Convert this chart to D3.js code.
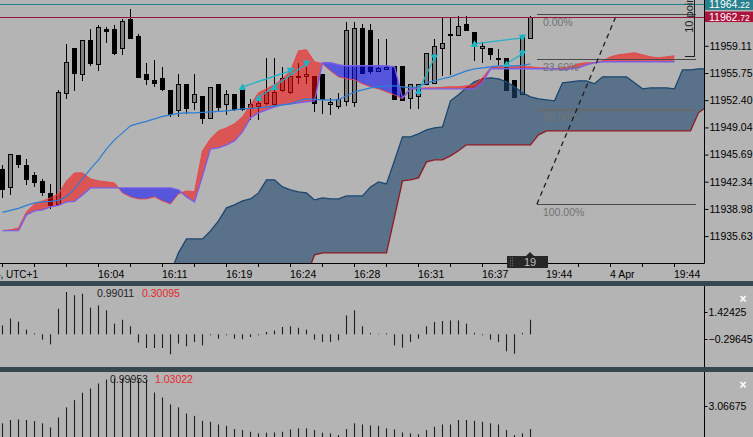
<!DOCTYPE html>
<html><head><meta charset="utf-8">
<script src="https://cdn.jsdelivr.net/npm/d3@7"></script>
<style>
html,body{margin:0;padding:0;background:#b4b4b4;overflow:hidden}
svg{display:block}
text{font-family:"Liberation Sans",Arial,sans-serif}
</style>
</head><body>
<svg id="c" width="753" height="437"></svg>
<script>
// ---------- DATA ----------
const open=[11943.92,11941.70,11945.65,11944.42,11943.18,11942.44,11940.96,11939.60,11953.31,11958.86,
11955.65,11959.85,11956.89,11961.21,11961.21,11958.86,11962.44,11960.35,11955.65,11954.91,
11955.16,11953.68,11951.21,11954.42,11952.20,11952.94,11950.22,11954.42,11951.95,11953.19,
11953.68,11951.46,11951.70,11952.07,11951.95,11953.68,11953.43,11955.41,11955.41,11955.41,
11955.65,11951.95,11951.70,11952.32,11952.20,11961.33,11961.09,11956.02,11956.27,11956.64,
11956.64,11952.69,11952.94,11954.42,11954.54,11958.86,11960.47,11960.47,11961.83,11960.84,
11958.86,11958.86,11957.63,11957.63,11954.91,11953.19,11960.10];
const high=[11944.42,11945.78,11945.65,11945.16,11943.55,11942.69,11942.07,11953.68,11959.36,11958.86,
11959.85,11961.21,11961.70,11961.46,11961.70,11962.44,11963.68,11960.59,11957.01,11957.38,
11956.52,11953.68,11955.65,11954.42,11955.65,11952.94,11954.05,11954.42,11953.68,11953.19,
11953.68,11952.57,11952.69,11957.63,11957.63,11956.52,11956.39,11957.01,11957.01,11955.41,
11955.65,11952.69,11953.31,11962.07,11962.07,11961.83,11961.83,11959.98,11959.98,11956.64,
11956.64,11954.42,11954.42,11958.25,11959.98,11962.69,11962.57,11962.81,11962.81,11960.84,
11959.60,11958.86,11958.74,11957.63,11954.91,11960.22,11962.81];
const low=[11940.47,11940.84,11944.17,11942.07,11941.82,11940.72,11939.11,11939.60,11952.69,11953.68,
11954.91,11956.77,11956.15,11959.60,11958.12,11958.12,11960.10,11955.28,11954.42,11954.17,
11953.68,11950.47,11950.47,11950.84,11951.33,11949.60,11950.22,11951.09,11950.72,11951.21,
11951.21,11950.10,11950.10,11951.95,11951.70,11953.56,11953.31,11954.54,11954.54,11951.09,
11950.84,11950.72,11951.46,11951.83,11951.70,11955.78,11955.78,11956.02,11956.27,11952.57,
11952.44,11951.46,11951.46,11954.42,11954.54,11955.53,11955.65,11960.47,11961.09,11957.38,
11957.14,11957.51,11956.89,11953.68,11952.81,11953.19,11960.10];
const close=[11941.46,11945.78,11944.54,11942.69,11942.32,11941.09,11939.48,11953.43,11957.14,11955.78,
11959.85,11957.01,11961.46,11961.02,11958.25,11962.20,11960.10,11955.28,11955.04,11954.54,
11953.80,11950.72,11954.42,11951.46,11953.19,11950.22,11954.05,11951.58,11953.19,11951.33,
11951.33,11951.95,11952.07,11953.43,11953.43,11955.16,11955.41,11955.28,11955.65,11952.07,
11952.57,11952.20,11952.57,11961.09,11961.33,11955.78,11956.02,11956.39,11956.52,11952.57,
11952.44,11954.42,11954.42,11958.25,11959.11,11959.48,11960.59,11961.58,11961.09,11959.36,
11959.11,11958.12,11957.57,11953.68,11952.81,11960.22,11962.72];

const kijun=[11938.56,11938.80,11939.05,11939.42,11939.73,11939.85,11939.91,11940.04,11940.53,11941.46,
11942.69,11943.92,11945.04,11946.39,11947.50,11948.37,11949.23,11949.54,11949.79,11950.10,
11950.41,11950.59,11950.78,11950.84,11950.84,11950.90,11950.96,11951.02,11951.09,11951.21,
11951.33,11951.39,11951.46,11951.58,11951.70,11951.83,11951.95,11952.32,11952.57,11952.51,
11952.44,11952.44,11952.44,11952.94,11953.43,11953.68,11953.92,11954.05,11954.17,11954.17,
11954.05,11953.92,11954.05,11954.54,11954.79,11955.04,11955.28,11955.65,11956.02,11956.27,
11956.39,11956.52,11956.64,11956.64,11956.64,11956.70,11956.89];

const spanA=[11936.31,11936.40,11936.64,11938.62,11939.60,11939.97,11940.34,11940.84,11942.44,11943.43,
11943.43,11942.69,11942.44,11942.32,11942.19,11940.96,11940.47,11940.22,11940.22,11940.47,
11939.97,11939.60,11940.84,11941.21,11941.09,11946.15,11947.63,11948.62,11948.99,11949.48,
11950.35,11951.83,11953.31,11953.80,11954.30,11955.04,11956.02,11958.49,11958.62,11957.14,
11956.89,11956.02,11955.28,11955.04,11954.91,11954.42,11954.05,11953.80,11953.43,11953.06,
11952.57,11953.80,11953.86,11953.92,11953.92,11953.99,11954.05,11954.05,11954.17,11954.30,
11955.16,11956.39,11956.52,11956.52,11956.52,11956.52,11956.52,11956.39,11956.39,11956.27,
11956.39,11956.52,11956.89,11957.01,11957.01,11957.26,11957.75,11958.00,11958.12,11958.25,
11958.00,11957.75,11957.63,11957.75,11957.88];
const spanB=[11936.31,11936.31,11936.31,11938.25,11938.74,11938.86,11939.23,11939.42,11939.85,11939.91,
11940.72,11941.58,11941.58,11941.58,11941.58,11941.58,11941.58,11941.58,11941.58,11941.58,
11941.58,11941.58,11941.33,11940.47,11939.85,11943.06,11946.39,11946.52,11946.89,11947.38,
11948.49,11950.22,11950.84,11951.21,11951.58,11951.83,11951.95,11952.07,11952.20,11952.32,
11957.01,11957.01,11956.77,11956.64,11956.64,11956.64,11956.64,11956.64,11956.64,11956.52,
11952.69,11953.80,11953.80,11953.80,11953.80,11953.80,11953.80,11953.80,11953.80,11953.80,
11954.54,11956.27,11956.27,11956.27,11956.27,11956.27,11956.27,11956.27,11956.27,11956.27,
11956.15,11956.27,11956.39,11956.77,11957.01,11957.14,11957.14,11957.14,11957.14,11957.14,
11957.14,11957.14,11957.14,11957.14,11957.14];

const farStart=21;
const farUpper=[11931.09,11933.56,11935.28,11935.28,11935.28,11936.27,11937.51,11939.11,11939.48,11939.97,
11940.22,11940.96,11942.57,11942.57,11941.70,11941.33,11941.09,11940.96,11940.10,11940.34,
11940.22,11940.22,11940.59,11940.59,11940.59,11941.70,11942.32,11942.07,11944.97,11947.87,
11947.87,11948.25,11948.74,11948.99,11949.11,11952.32,11953.06,11953.92,11954.67,11955.04,
11955.16,11955.04,11954.67,11954.05,11953.31,11952.81,11952.57,11952.44,11952.32,11954.54,
11954.67,11954.79,11954.79,11954.42,11955.28,11955.28,11955.28,11955.28,11954.54,11953.80,
11953.92,11953.92,11953.92,11953.80,11956.15,11956.15,11956.27,11956.27];
const farLower=[11927.63,11927.63,11927.63,11927.63,11927.63,11927.63,11927.63,11927.63,11927.63,11927.63,
11927.63,11927.63,11927.63,11927.63,11927.63,11927.63,11927.63,11930.72,11933.31,11933.56,
11933.56,11933.56,11933.56,11933.56,11933.56,11933.56,11933.56,11933.56,11938.00,11942.44,
11942.57,11942.81,11944.79,11945.04,11945.04,11945.53,11946.15,11946.89,11946.89,11946.89,
11946.89,11946.89,11946.89,11946.89,11946.89,11946.89,11948.12,11948.62,11948.62,11948.62,
11948.62,11948.62,11948.62,11948.62,11948.62,11948.62,11948.62,11948.62,11948.62,11948.62,
11948.62,11948.62,11948.62,11948.62,11948.62,11948.62,11950.84,11951.58];

const osc1=[0.57,1.00,0.81,0.30,0,-0.34,-0.64,1.64,2.70,2.49,
2.59,1.70,1.85,1.53,0.68,0.93,0.51,-0.53,-0.87,-0.87,
-0.87,-1.27,-0.59,-0.76,-0.49,-0.70,-0.06,-0.28,-0.06,-0.28,
-0.32,-0.17,-0.06,0.15,0.25,0.47,0.51,0.42,0.30,-0.34,
-0.49,-0.49,-0.38,1.21,1.53,0.51,0.08,0.03,0,-0.70,
-0.85,-0.49,-0.28,0.51,0.79,0.85,0.89,0.89,0.68,0.10,
-0.06,-0.34,-0.49,-1.08,-1.23,0.08,0.93];
const osc2=[1.96,2.17,2.21,2.17,2.10,1.96,1.70,2.34,2.98,3.44,
3.91,4.19,4.51,4.76,4.82,4.82,4.82,4.78,4.72,3.93,
3.61,3.17,2.98,2.59,2.44,2.12,2.06,1.89,1.80,1.59,
1.53,1.42,1.32,1.36,1.38,1.42,1.57,1.64,1.64,1.53,
1.36,1.32,1.21,1.59,1.96,1.89,1.83,1.80,1.64,1.57,
1.38,1.32,1.26,1.53,1.74,1.89,1.89,2.17,2.17,2.12,
2.06,1.96,1.89,1.53,1.21,1.32,1.59];

const priceTicks=[11959.11,11955.75,11952.40,11949.04,11945.69,11942.34,11938.98,11935.63];
const timeTickBars=[12,20,28,36,44,52,60,68,76,84];
const timeLabels=["16:04","16:11","16:19","16:24","16:28","16:31","16:37","19:44","4 Apr","19:44"];
const firstLabel="3 Apr 2024, UTC+1";
const bidPrice=11964.22, askPrice=11962.72;
const fibHigh=11963.03, fibLow=11939.57;
const fibLevels=[0,23.6,50,100];
const fibLabels=["0.00%","23.60%","50.00%","100.00%"];
const fibBars=[66.8,86.7], fibTrendBars=[66.8,76.8];
const zigzag=[[30,11954.05,36,11956.02],[32,11952.69,38,11956.89],[52,11953.56,54,11957.63],[59,11959.36,65,11960.10],[63,11956.89,65,11958.12]];
const arrowsUp=[[30,11954.05],[32,11952.69],[34,11954.05],[52,11953.56],[59,11959.36],[63,11956.89]];
const arrowsDown=[[36,11956.02],[38,11956.89],[54,11957.63],[65,11960.10],[65,11958.12]];
const rulerBar=86.4, rulerLow=11957.88, rulerPoints=10;
const osc1Ticks=[1.42425,-0.29645], osc2Ticks=[3.06675];
const osc1Text=["0.99011","0.30095"], osc2Text=["0.99953","1.03022"];
const countdown="19";

// ---------- LAYOUT ----------
const W=753,H=437, plotR=704, plotB=263;
const svg=d3.select("#c");
svg.append("rect").attr("width",W).attr("height",H).attr("fill","#b4b4b4");
const x=d3.scaleLinear().domain([0,88]).range([2.5,706.5]);
const y=d3.scaleLinear().domain([11935.63,11959.11]).range([236.1,45.8]);
const y1=d3.scaleLinear().domain([-0.29645,1.42425]).range([339,312]);
const y2=d3.scaleLinear().domain([0,3.06675]).range([454,406]);
const defs=svg.append("defs");
defs.append("clipPath").attr("id","plotClip").append("rect").attr("x",0).attr("y",0).attr("width",plotR).attr("height",plotB);
const kIdx=d3.range(spanA.length);
defs.append("clipPath").attr("id","belowA").append("path")
  .attr("d",d3.area().x(i=>x(i)).y0(i=>y(spanA[i])).y1(400)(kIdx));
defs.append("clipPath").attr("id","aboveA").append("path")
  .attr("d",d3.area().x(i=>x(i)).y0(i=>y(spanA[i])).y1(-50)(kIdx));

const main=svg.append("g").attr("clip-path","url(#plotClip)");
const idx=d3.range(open.length);
const R=v=>Math.round(v)+0.5;

// candles
main.append("g").selectAll("line").data(idx).join("line")
  .attr("x1",i=>x(i)).attr("x2",i=>x(i))
  .attr("y1",i=>Math.round(y(high[i]))).attr("y2",i=>Math.round(y(low[i]))+1)
  .attr("stroke","#000").attr("shape-rendering","crispEdges");
main.append("g").selectAll("rect").data(idx).join("rect")
  .attr("x",i=>x(i)-2).attr("width",4)
  .attr("y",i=>R(y(Math.max(open[i],close[i]))))
  .attr("height",i=>Math.max(1,Math.round(Math.abs(y(open[i])-y(close[i])))))
  .attr("fill",i=>close[i]>open[i]?"#808080":"#000")
  .attr("stroke","#000").attr("stroke-width",1).attr("shape-rendering","crispEdges");

// far cloud (steel)
const fIdx=d3.range(farUpper.length);
main.append("path")
  .attr("d",d3.area().x(j=>x(j+farStart)).y0(j=>y(farLower[j])).y1(j=>y(farUpper[j]))(fIdx))
  .attr("fill","rgb(30,70,108)").attr("fill-opacity",0.6);
main.append("path")
  .attr("d",d3.line().x(j=>x(j+farStart)).y(j=>y(farUpper[j]))(fIdx))
  .attr("fill","none").attr("stroke","#1b4670").attr("stroke-width",1.3);
main.append("path")
  .attr("d",d3.line().x(j=>x(j+farStart)).y(j=>y(farLower[j]))(fIdx))
  .attr("fill","none").attr("stroke","#8e1a22").attr("stroke-width",1.3);

// kumo
main.append("path")
  .attr("d",d3.area().x(i=>x(i)).y0(i=>y(spanB[i])).y1(-50)(kIdx))
  .attr("clip-path","url(#belowA)").attr("fill","rgb(255,0,0)").attr("fill-opacity",0.53);
main.append("path")
  .attr("d",d3.area().x(i=>x(i)).y0(i=>y(spanB[i])).y1(400)(kIdx))
  .attr("clip-path","url(#aboveA)").attr("fill","rgb(10,10,255)").attr("fill-opacity",0.55);
main.append("path")
  .attr("d",d3.line().x(i=>x(i)).y(i=>y(spanA[i]))(kIdx))
  .attr("fill","none").attr("stroke","#e4484c").attr("stroke-width",1);
main.append("path")
  .attr("d",d3.line().x(i=>x(i)).y(i=>y(spanB[i]))(kIdx))
  .attr("fill","none").attr("stroke","#7a5ee8").attr("stroke-width",1.4);

// kijun
main.append("path")
  .attr("d",d3.line().x(i=>x(i)).y(i=>y(kijun[i]))(idx))
  .attr("fill","none").attr("stroke","#2b7fd6").attr("stroke-width",1.2);

// zigzag
const cyan="#1fb3c4";
main.append("g").selectAll("line").data(zigzag).join("line")
  .attr("x1",d=>x(d[0])).attr("y1",d=>y(d[1])).attr("x2",d=>x(d[2])).attr("y2",d=>y(d[3]))
  .attr("stroke",cyan).attr("stroke-width",1.3);
main.append("g").selectAll("path").data(arrowsUp).join("path")
  .attr("d",d=>{const cx=x(d[0]),cy=y(d[1]);return `M${cx-3.8},${cy+3.2}L${cx+3.8},${cy+3.2}L${cx},${cy-3.4}Z`;})
  .attr("fill",cyan);
main.append("g").selectAll("path").data(arrowsDown).join("path")
  .attr("d",d=>{const cx=x(d[0]),cy=y(d[1]);return `M${cx-3.8},${cy-3.2}L${cx+3.8},${cy-3.2}L${cx},${cy+3.4}Z`;})
  .attr("fill",cyan);

// fibonacci
const fibP=l=>fibHigh-(fibHigh-fibLow)*l/100;
const fg=main.append("g");
fibLevels.forEach((l,k)=>{
  const yy=R(y(fibP(l)));
  fg.append("line").attr("x1",x(fibBars[0])).attr("x2",x(fibBars[1])).attr("y1",yy).attr("y2",yy)
    .attr("stroke",l===50?"#6a6a6a":"#4a4a4a").attr("stroke-width",l===50?2:1).attr("shape-rendering","crispEdges");
  fg.append("text").attr("x",x(fibBars[0])+6).attr("y",yy+11.5).text(fibLabels[k])
    .attr("font-size",10.5).attr("fill","#727272");
});
fg.append("line").attr("x1",x(fibTrendBars[0])).attr("y1",y(fibLow)).attr("x2",x(fibTrendBars[1])).attr("y2",y(fibHigh))
  .attr("stroke","#1e1e1e").attr("stroke-width",1.3).attr("stroke-dasharray","5,4");

// bid / ask lines
main.append("line").attr("x1",0).attr("x2",plotR).attr("y1",R(y(bidPrice))).attr("y2",R(y(bidPrice)))
  .attr("stroke","#26808c").attr("shape-rendering","crispEdges");
main.append("line").attr("x1",0).attr("x2",plotR).attr("y1",R(y(askPrice))).attr("y2",R(y(askPrice)))
  .attr("stroke","#981538").attr("shape-rendering","crispEdges");

// ruler
const rx=R(x(rulerBar));
main.append("line").attr("x1",rx).attr("x2",rx).attr("y1",y(rulerLow+rulerPoints)).attr("y2",R(y(rulerLow)))
  .attr("stroke","#1e1e1e").attr("shape-rendering","crispEdges");
main.append("line").attr("x1",rx-10).attr("x2",rx).attr("y1",R(y(rulerLow))).attr("y2",R(y(rulerLow)))
  .attr("stroke","#1e1e1e").attr("shape-rendering","crispEdges");
main.append("text").attr("transform",`translate(${rx-2},${y(rulerLow)-23}) rotate(-90)`)
  .text(rulerPoints+" points").attr("font-size",11).attr("fill","#1e1e1e");

// axes main
svg.append("line").attr("x1",0).attr("x2",plotR+0.5).attr("y1",plotB+0.5).attr("y2",plotB+0.5).attr("stroke","#000");
svg.append("line").attr("x1",plotR+0.5).attr("x2",plotR+0.5).attr("y1",0).attr("y2",plotB+0.5).attr("stroke","#000");
const yAxis=d3.axisRight(y).tickValues(priceTicks).tickFormat(d3.format(".2f")).tickSize(4).tickPadding(1);
const ya=svg.append("g").attr("transform",`translate(${plotR+0.5},0)`).call(yAxis);
ya.select(".domain").remove();
ya.selectAll("text").attr("font-size",10.5).attr("fill","#000").attr("font-family","Liberation Sans, Arial");
ya.selectAll("line").attr("stroke","#000");

const allTicks=d3.range(0,88,4);
svg.append("g").selectAll("line").data(allTicks).join("line")
  .attr("x1",i=>x(i)).attr("x2",i=>x(i)).attr("y1",plotB+1).attr("y2",plotB+4).attr("stroke","#000");
svg.append("g").selectAll("text").data(timeTickBars).join("text")
  .attr("x",i=>x(i)-0.5).attr("y",277.5).text((d,k)=>timeLabels[k]).attr("font-size",10.5).attr("fill","#000");
svg.append("text").attr("x",38).attr("y",277.5).attr("text-anchor","end").text(firstLabel).attr("font-size",10).attr("fill","#000");

// price boxes
[[bidPrice,"#27818f"],[askPrice,"#ab143d"]].forEach(([p,c])=>{
  const yy=y(p);
  svg.append("rect").attr("x",plotR+1).attr("y",yy-5).attr("width",W-plotR).attr("height",10.5).attr("fill",c);
  const s=p.toFixed(2), t=svg.append("text").attr("x",709).attr("y",yy+4).attr("fill","#fff").attr("font-size",10.5);
  t.append("tspan").text(s.slice(0,-2));
  t.append("tspan").text(s.slice(-2)).attr("font-size",8.5);
});

// countdown box
const cb=svg.append("g");
cb.append("path").attr("d","M507,256H526L530,252L534,256H548V268H507Z").attr("fill","#262626");
[258,260.5,263,265.5].forEach(yy=>cb.append("line").attr("x1",510).attr("x2",514).attr("y1",yy).attr("y2",yy).attr("stroke","#777").attr("stroke-dasharray","1,1"));
cb.append("text").attr("x",530).attr("y",266).attr("text-anchor","middle").text(countdown).attr("font-size",11).attr("fill","#bdbdbd");

// separators
svg.append("rect").attr("x",0).attr("y",281).attr("width",W).attr("height",5).attr("fill","#37474f");
svg.append("rect").attr("x",0).attr("y",367).attr("width",W).attr("height",5).attr("fill","#37474f");

// panel 1
const p1=svg.append("g");
p1.selectAll("line").data(idx).join("line")
  .attr("x1",i=>x(i)).attr("x2",i=>x(i)).attr("y1",y1(0)).attr("y2",i=>y1(osc1[i])===y1(0)?y1(0)-1:y1(osc1[i]))
  .attr("stroke","#1e1e1e").attr("stroke-width",1.1);
p1.append("line").attr("x1",plotR+0.5).attr("x2",plotR+0.5).attr("y1",286).attr("y2",367).attr("stroke","#000");
const a1=p1.append("g").attr("transform",`translate(${plotR+0.5},0)`).call(d3.axisRight(y1).tickValues(osc1Ticks).tickFormat(d3.format(".5f")).tickSize(3).tickPadding(1));
a1.select(".domain").remove();
a1.selectAll("text").attr("font-size",10.5).attr("fill","#000").attr("font-family","Liberation Sans, Arial");
p1.append("text").attr("x",97).attr("y",297).text(osc1Text[0]).attr("font-size",10.5).attr("fill","#1e1e1e");
p1.append("text").attr("x",142).attr("y",297).text(osc1Text[1]).attr("font-size",10.5).attr("fill","#e8262a");
p1.append("text").attr("x",743).attr("y",302.5).attr("text-anchor","middle").text("×").attr("font-size",12).attr("font-weight","bold").attr("fill","#fff");

// panel 2
const p2=svg.append("g");
p2.selectAll("line").data(idx).join("line")
  .attr("x1",i=>x(i)).attr("x2",i=>x(i)).attr("y1",H+2).attr("y2",i=>y2(osc2[i]))
  .attr("stroke","#1e1e1e").attr("stroke-width",1.1);
p2.append("line").attr("x1",plotR+0.5).attr("x2",plotR+0.5).attr("y1",372).attr("y2",H).attr("stroke","#000");
const a2=p2.append("g").attr("transform",`translate(${plotR+0.5},0)`).call(d3.axisRight(y2).tickValues(osc2Ticks).tickFormat(d3.format(".5f")).tickSize(3).tickPadding(1));
a2.select(".domain").remove();
a2.selectAll("text").attr("font-size",10.5).attr("fill","#000").attr("font-family","Liberation Sans, Arial");
p2.append("text").attr("x",110).attr("y",383).text(osc2Text[0]).attr("font-size",10.5).attr("fill","#1e1e1e");
p2.append("text").attr("x",155).attr("y",383).text(osc2Text[1]).attr("font-size",10.5).attr("fill","#e8262a");
p2.append("text").attr("x",743).attr("y",388.5).attr("text-anchor","middle").text("×").attr("font-size",12).attr("font-weight","bold").attr("fill","#fff");
</script>
</body></html>
